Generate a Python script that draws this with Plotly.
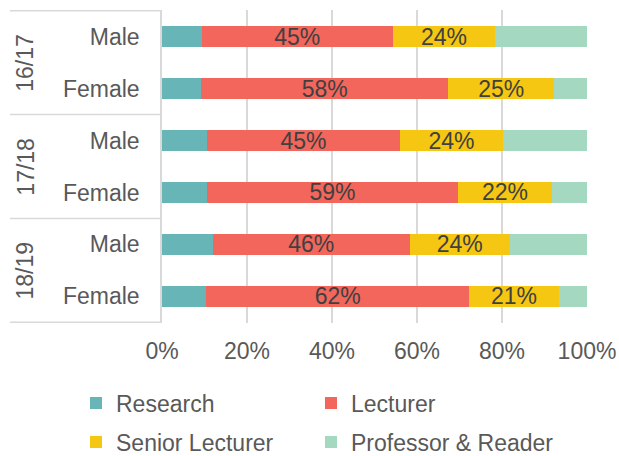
import plotly.graph_objects as go

years = ["16/17", "17/18", "18/19"]
genders = ["Male", "Female"]
categories = ["16/17 Male", "16/17 Female", "17/18 Male", "17/18 Female", "18/19 Male", "18/19 Female"]
tick_labels = ["Male", "Female", "Male", "Female", "Male", "Female"]

research = [9.3, 9.2, 10.6, 10.6, 11.9, 10.4]
lecturer = [45.0, 58.2, 45.4, 59.0, 46.4, 61.9]
senior = [24.1, 24.8, 24.2, 22.2, 23.5, 21.0]
professor = [21.6, 7.8, 19.8, 8.2, 18.2, 6.7]

series = [
    ("Research", research, "#68B5B7", False),
    ("Lecturer", lecturer, "#F2665C", True),
    ("Senior Lecturer", senior, "#F5C712", True),
    ("Professor & Reader", professor, "#A5D8C1", False),
]

FONT = "Liberation Sans, Arial, sans-serif"
GRID = "#D9D9D9"
LABEL = "#595959"
FS = 23

W, H = 619, 456
ML, MR, MT, MB = 162, 32, 10, 133

# legend item anchors (left edge px, centre px from top)
legend_pos = [(76, 403), (311, 403), (76, 442), (311, 442)]
legend_ids = ["legend", "legend2", "legend3", "legend4"]

fig = go.Figure()
for (name, vals, color, show_text), lid in zip(series, legend_ids):
    fig.add_trace(go.Bar(
        name=name, x=vals, y=categories, orientation="h",
        marker=dict(color=color, line=dict(width=0)),
        texttemplate="%{x:.0f}%" if show_text else None,
        textposition="inside" if show_text else "none",
        insidetextanchor="middle", textangle=0, constraintext="none",
        textfont=dict(family=FONT, size=FS, color="#404040"),
        legend=lid, showlegend=True, hoverinfo="skip",
    ))

# year group labels and separators
for i, yr in enumerate(years):
    fig.add_annotation(
        text=yr, xref="paper", yref="y", x=-0.322, y=2 * i + 0.5,
        xanchor="center", yanchor="middle",
        textangle=-90, showarrow=False,
        font=dict(family=FONT, size=FS, color=LABEL),
    )
for yv in [-0.5, 1.5, 3.5, 5.5]:
    fig.add_shape(type="line", xref="paper", yref="y", x0=-0.3576, x1=0,
                  y0=yv, y1=yv, line=dict(color=GRID, width=1.5))

legends = {}
for lid, (lx, ly) in zip(legend_ids, legend_pos):
    legends[lid] = dict(orientation="h", xref="container", yref="container",
                        x=lx / W, y=1 - ly / H, visible=True,
                        xanchor="left", yanchor="middle", borderwidth=0,
                        font=dict(family=FONT, size=FS, color=LABEL),
                        bgcolor="rgba(0,0,0,0)")

fig.update_layout(
    width=W, height=H, showlegend=True,
    margin=dict(l=ML, r=MR, t=MT, b=MB, pad=0),
    barmode="stack", bargap=0.6,
    plot_bgcolor="white", paper_bgcolor="white",
    font=dict(family=FONT, size=FS, color=LABEL),
    xaxis=dict(range=[0, 100], dtick=20, ticksuffix="%", showgrid=True,
               gridcolor=GRID, gridwidth=1.5, zeroline=False, showline=False,
               ticks="", ticklabelstandoff=12, automargin=False,
               tickfont=dict(family=FONT, size=FS, color=LABEL)),
    yaxis=dict(categoryorder="array", categoryarray=categories,
               autorange="reversed", tickmode="array", tickvals=categories,
               ticktext=tick_labels, showgrid=False, showline=True,
               linecolor=GRID, linewidth=1.5, ticks="", ticklabelstandoff=16,
               automargin=False,
               tickfont=dict(family=FONT, size=FS, color=LABEL)),
    **legends,
)

fig.write_html("out.html", config={"displayModeBar": False},
               post_script="document.body.style.margin='0';")
